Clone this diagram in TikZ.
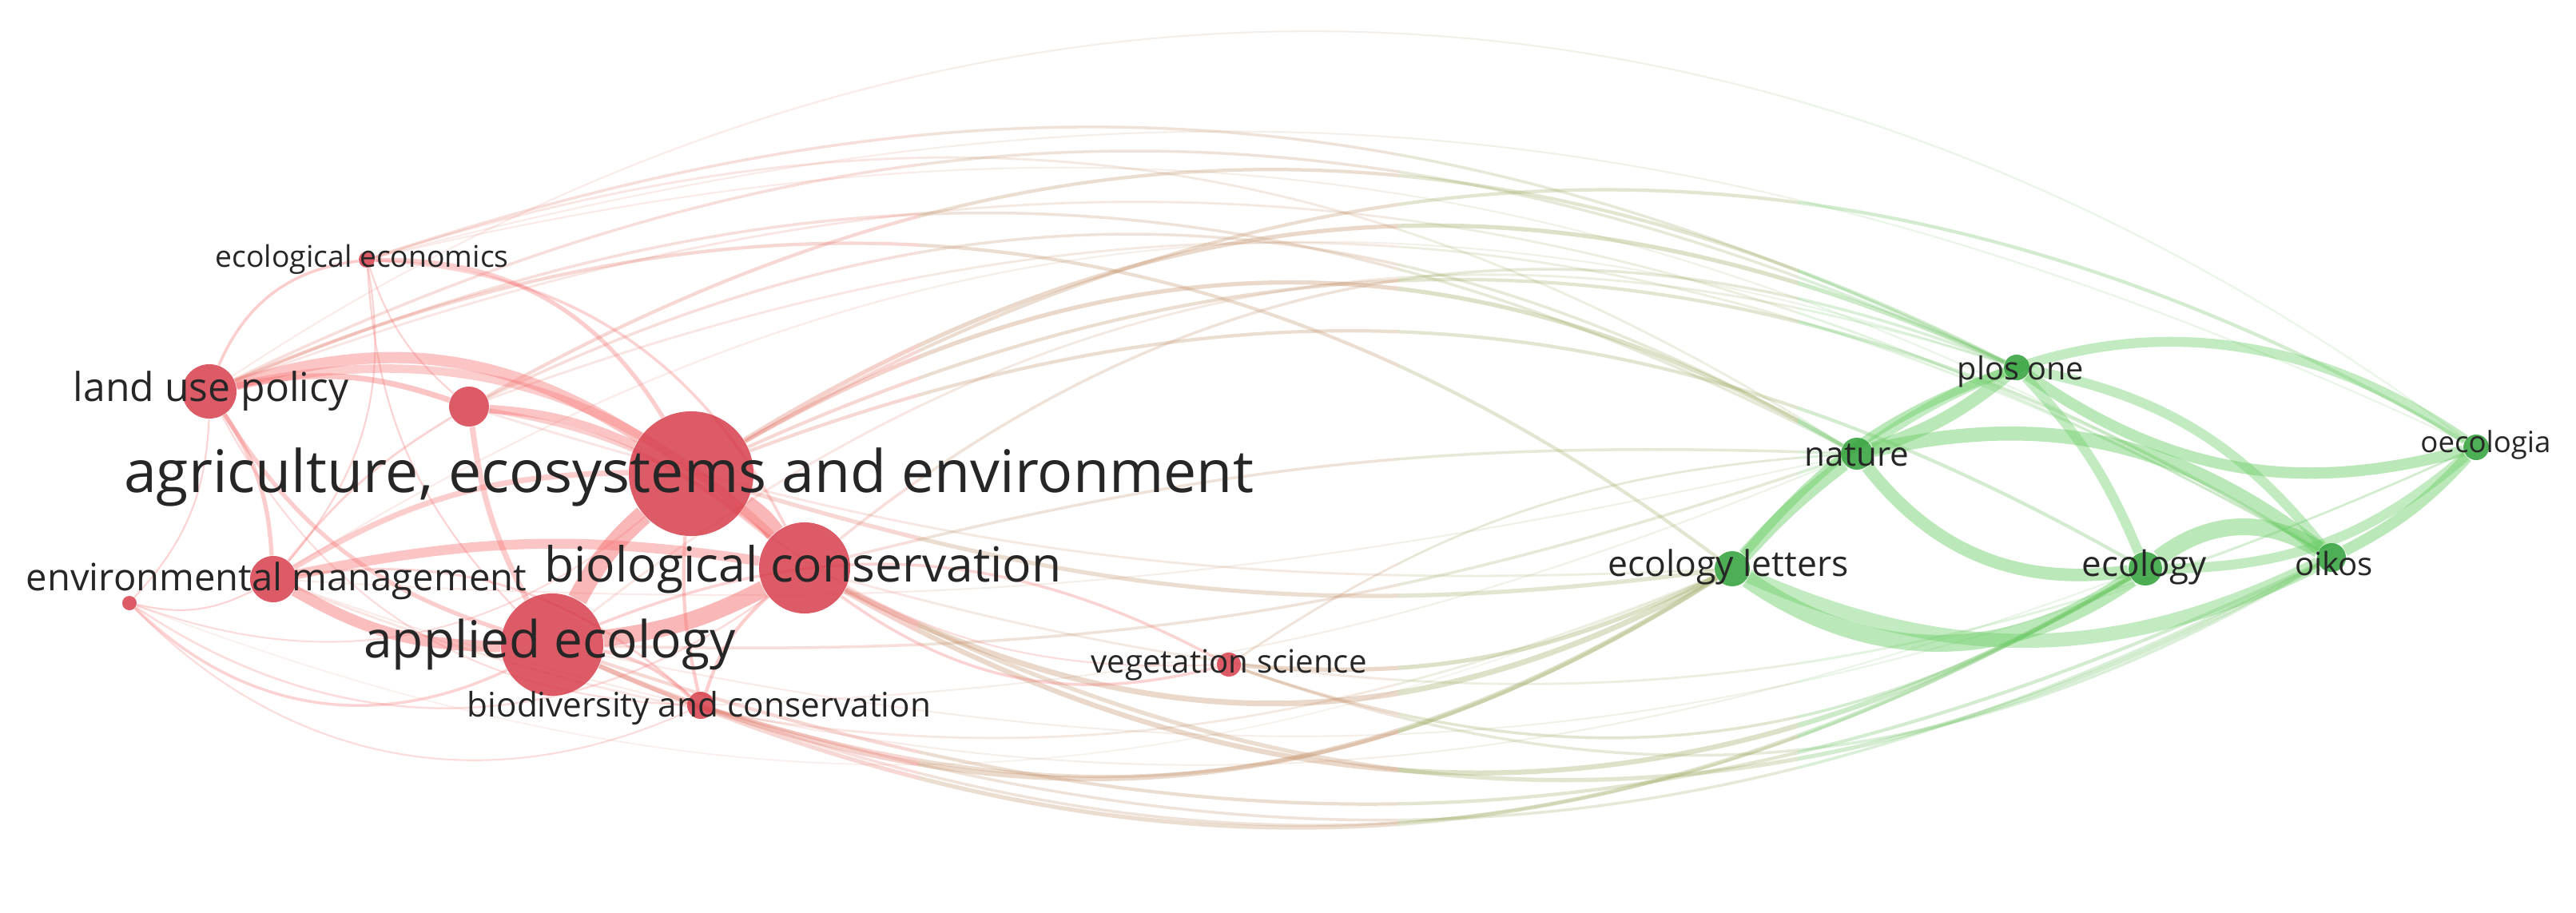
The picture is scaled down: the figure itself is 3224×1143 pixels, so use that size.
\documentclass[tikz,border=0pt]{standalone}
\usepackage{fontspec}
\setmainfont{Open Sans}
\usetikzlibrary{backgrounds}
\definecolor{nred}{RGB}{214,56,70}
\definecolor{ered}{RGB}{246,112,112}
\definecolor{ngreen}{RGB}{48,160,56}
\definecolor{egreen}{RGB}{105,205,100}
\definecolor{xA}{RGB}{228,125,110}
\definecolor{xB}{RGB}{195,145,105}
\definecolor{xC}{RGB}{160,170,100}
\definecolor{xD}{RGB}{110,195,100}
\definecolor{txt}{RGB}{38,38,38}
\tikzset{
  rnode/.style={circle, fill=nred, fill opacity=0.82, draw=none, inner sep=0pt, minimum size=#1},
  gnode/.style={circle, fill=ngreen, fill opacity=0.85, draw=none, inner sep=0pt, minimum size=#1},
  vlab/.style={text=txt, inner sep=0pt},
}
\newcommand\crossedges[1]{%
  \foreach \a/\b/\w/\o/\bd in {
    lup/oe/0.6/0.15/35, ee/po/1/0.25/22, ee/oe/0.6/0.15/20, lup/po/1/0.25/25,
    lup/na/1/0.25/25, lup/oi/0.8/0.2/25, u/po/1.2/0.3/28, u/na/1/0.25/28,
    u/oi/0.8/0.2/25, aee/po/1.5/0.35/28, aee/na/1.5/0.35/30, aee/oe/1.2/0.3/30,
    aee/oi/1.2/0.3/28, aee/ec/1.2/0.3/25, ee/na/0.8/0.2/25, ee/oi/0.6/0.15/22,
    bc/po/1/0.25/30, em/po/0.6/0.15/25, ae/po/0.8/0.2/28, lup/el/1.2/0.3/30,
    bc/el/2/0.35/-28, bc/ec/1.8/0.35/-30, bc/oi/1.5/0.3/-28, ae/el/1.8/0.35/-28,
    ae/ec/1.5/0.3/-27, ae/oi/1.2/0.3/-22, bac/el/1.2/0.3/-25, bac/ec/1/0.25/-25,
    bac/oi/1/0.25/-22, vs/el/1.5/0.35/-15, vs/ec/1/0.3/-25, vs/oi/1/0.25/-25,
    vs/na/0.8/0.25/15, em/el/0.8/0.2/-22, em/ec/0.6/0.15/-20, s/el/0.5/0.12/-22,
    aee/el/1.5/0.3/-12, ae/na/1/0.25/-10, bc/na/1/0.25/8, bc/oe/0.8/0.2/-20,
    ae/oe/0.6/0.15/-18, u/el/0.8/0.2/-10, em/na/0.6/0.15/-8, bac/na/0.6/0.15/-10}
  {\draw[draw=#1, line width=\w pt, opacity=\o] (\a) to[bend left=\bd] (\b);}%
}
\begin{document}
\begin{tikzpicture}[x=0.01cm,y=-0.01cm]
\useasboundingbox (0,0) rectangle (3224,1143);
% red cluster
\node[rnode=0.2cm]  (ee)  at (459,325) {};
\node[rnode=0.68cm] (lup) at (262,490) {};
\node[rnode=0.5cm]  (u)   at (587,509) {};
\node[rnode=1.56cm] (aee) at (865,593) {};
\node[rnode=1.14cm] (bc)  at (1007,711) {};
\node[rnode=0.58cm] (em)  at (342,725) {};
\node[rnode=0.18cm] (s)   at (162,755) {};
\node[rnode=1.28cm] (ae)  at (691,807) {};
\node[rnode=0.34cm] (bac) at (877,883) {};
\node[rnode=0.3cm]  (vs)  at (1538,832) {};
% green cluster
\node[gnode=0.44cm] (el) at (2168,712) {};
\node[gnode=0.4cm]  (na) at (2324,568) {};
\node[gnode=0.32cm] (po) at (2524,460) {};
\node[gnode=0.42cm] (ec) at (2685,712) {};
\node[gnode=0.36cm] (oi) at (2918,698) {};
\node[gnode=0.32cm] (oe) at (3099,560) {};
% labels
\node[vlab] (ee-l)  at (453,325)  {\resizebox{3.67cm}{!}{ecological economics}};
\node[vlab] (lup-l) at (264,490)  {\resizebox{3.44cm}{!}{land use policy}};
\node[vlab] (aee-l) at (862,597)  {\resizebox{14.13cm}{!}{agriculture, ecosystems and environment}};
\node[vlab] (bc-l)  at (1005,713) {\resizebox{6.47cm}{!}{biological conservation}};
\node[vlab] (em-l)  at (346,727)  {\resizebox{6.26cm}{!}{environmental management}};
\node[vlab] (ae-l)  at (688,807)  {\resizebox{4.65cm}{!}{applied ecology}};
\node[vlab] (bac-l) at (875,887)  {\resizebox{5.8cm}{!}{biodiversity and conservation}};
\node[vlab] (vs-l)  at (1538,833) {\resizebox{3.45cm}{!}{vegetation science}};
\node[vlab] (el-l)  at (2163,710) {\resizebox{3.01cm}{!}{ecology letters}};
\node[vlab] (na-l)  at (2324,570) {\resizebox{1.3cm}{!}{nature}};
\node[vlab] (po-l)  at (2529,465) {\resizebox{1.58cm}{!}{plos one}};
\node[vlab] (ec-l)  at (2684,710) {\resizebox{1.56cm}{!}{ecology}};
\node[vlab] (oi-l)  at (2921,705) {\resizebox{0.98cm}{!}{oikos}};
\node[vlab] (oe-l)  at (3111,557) {\resizebox{1.63cm}{!}{oecologia}};
\begin{pgfonlayer}{background}
\fill[white] (0,0) rectangle (3224,1143);
% cross-cluster edges, coloured by region
\begin{scope}\clip (0,0) rectangle (1150,1143); \crossedges{xA} \end{scope}
\begin{scope}\clip (1150,0) rectangle (1750,1143); \crossedges{xB} \end{scope}
\begin{scope}\clip (1750,0) rectangle (2250,1143); \crossedges{xC} \end{scope}
\begin{scope}\clip (2250,0) rectangle (3224,1143); \crossedges{xD} \end{scope}
% red cluster edges
\foreach \a/\b/\w/\o/\bd in {
  aee/bc/7/0.5/10, aee/ae/7/0.5/-10, bc/ae/6/0.5/10, lup/aee/4/0.4/25,
  lup/bc/3/0.35/28, lup/u/2/0.4/15, u/aee/3/0.4/10, u/ae/2/0.35/-10,
  em/ae/4/0.45/-15, em/aee/2/0.35/15, em/bc/3.5/0.4/10, em/lup/1.5/0.35/-15,
  ee/aee/1.5/0.35/30, ee/lup/1/0.35/-30, ee/bc/1/0.3/30, ee/em/0.6/0.3/25,
  ee/ae/0.6/0.3/-20, ee/u/0.6/0.3/-15, s/ae/1/0.3/-35, s/bc/0.7/0.25/-35,
  s/lup/0.6/0.3/-20, s/em/0.6/0.3/-20, s/aee/0.6/0.25/-30, bac/ae/1.2/0.35/-15,
  bac/bc/1.2/0.35/15, bac/aee/1.2/0.35/8, bac/em/0.8/0.3/-25, vs/bc/1/0.3/25,
  vs/ae/1/0.3/-25, vs/aee/0.6/0.25/20, lup/ae/1.5/0.35/-20, u/bc/1.5/0.35/15,
  lup/bac/0.6/0.25/-30, em/u/0.8/0.3/10, s/bac/0.6/0.25/-35}
  {\draw[draw=ered, line width=\w pt, opacity=\o] (\a) to[bend left=\bd] (\b);}
% green cluster edges
\foreach \a/\b/\w/\o/\bd in {
  el/na/5/0.45/5, el/po/3/0.45/15, el/ec/6/0.45/-35, el/oi/5/0.4/-25,
  na/po/4.5/0.45/-10, na/ec/4.5/0.45/-30, na/oi/5/0.45/25, po/ec/3.5/0.4/10,
  po/oi/3.5/0.4/20, po/oe/4/0.45/-25, na/oe/3.5/0.4/35, ec/oi/6/0.45/35,
  ec/oe/3.5/0.4/-20, oi/oe/4/0.45/-10}
  {\draw[draw=egreen, line width=\w pt, opacity=\o] (\a) to[bend left=\bd] (\b);}
\end{pgfonlayer}
\end{tikzpicture}
\end{document}
